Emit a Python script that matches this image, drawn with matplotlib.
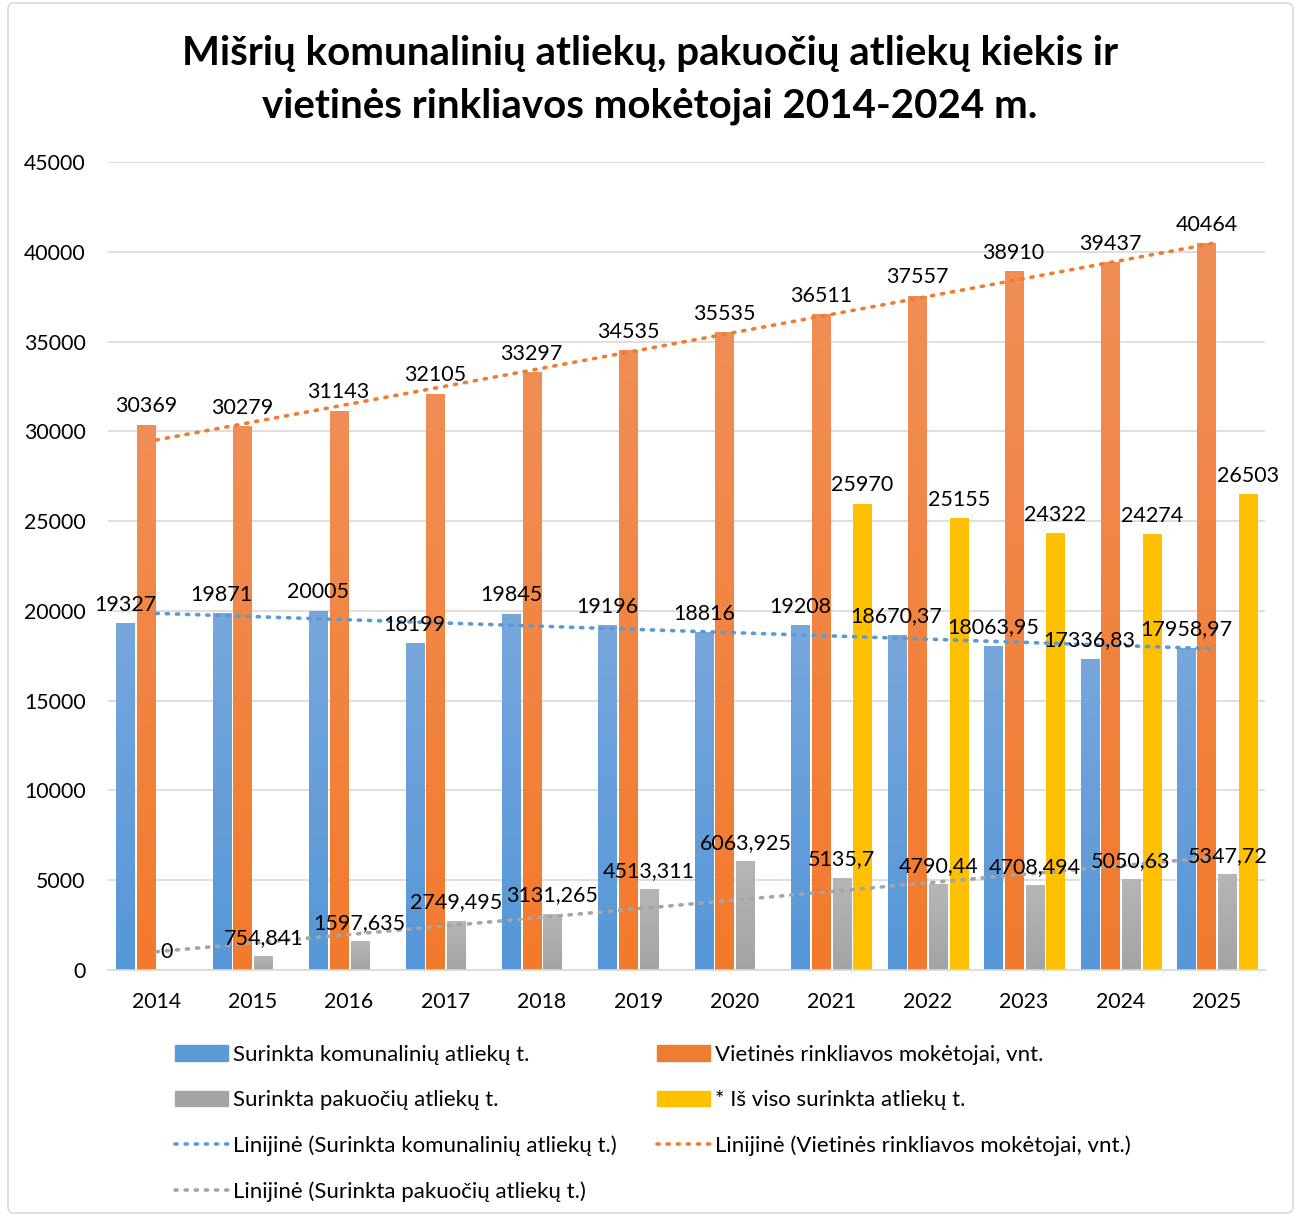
import numpy as np
import matplotlib
matplotlib.use("Agg")
import matplotlib.pyplot as plt
from matplotlib.colors import LinearSegmentedColormap
from matplotlib.patches import Patch, FancyBboxPatch
from matplotlib.lines import Line2D

plt.rcParams['font.family'] = ['Lato', 'DejaVu Sans']

years = ['2014', '2015', '2016', '2017', '2018', '2019', '2020', '2021', '2022', '2023', '2024', '2025']
komunalines = [19327, 19871, 20005, 18199, 19845, 19196, 18816, 19208, 18670.37, 18063.95, 17336.83, 17958.97]
komunalines_lbl = ['19327', '19871', '20005', '18199', '19845', '19196', '18816', '19208', '18670,37', '18063,95', '17336,83', '17958,97']
moketojai = [30369, 30279, 31143, 32105, 33297, 34535, 35535, 36511, 37557, 38910, 39437, 40464]
pakuotes = [0, 754.841, 1597.635, 2749.495, 3131.265, 4513.311, 6063.925, 5135.7, 4790.44, 4708.494, 5050.63, 5347.72]
pakuotes_lbl = ['0', '754,841', '1597,635', '2749,495', '3131,265', '4513,311', '6063,925', '5135,7', '4790,44', '4708,494', '5050,63', '5347,72']
is_viso = [None, None, None, None, None, None, None, 25970, 25155, 24322, 24274, 26503]

names = ['Surinkta komunalinių atliekų t.', 'Vietinės rinkliavos mokėtojai, vnt.',
         'Surinkta pakuočių atliekų t.', '* Iš viso surinkta atliekų t.']
trend_names = ['Linijinė (Surinkta komunalinių atliekų t.)',
               'Linijinė (Vietinės rinkliavos mokėtojai, vnt.)',
               'Linijinė (Surinkta pakuočių atliekų t.)']

c_blue = ('#78A7DC', '#5597D8')
c_orange = ('#F08E55', '#F37A2C')
c_gray = ('#B6B6B6', '#A3A3A3')
c_yellow = ('#FFC000', '#FFC000')

fig = plt.figure(figsize=(13.01, 12.18), dpi=100)
ax = fig.add_axes([108/1301, 1-970/1218, (1265-108)/1301, (970-162)/1218])

x = np.arange(len(years))
w = 0.187
offs = [-0.32, -0.107, 0.11, 0.325]

def grad_bars(xs, vals, color, off):
    for xi, v in zip(xs, vals):
        if v is None:
            continue
        b = ax.bar(xi + off, v, width=w, color=color[1], zorder=2)[0]
        cmap = LinearSegmentedColormap.from_list('g', [color[1], color[0]])
        grad = np.linspace(0, 1, 256).reshape(-1, 1)
        im = ax.imshow(grad, extent=[xi + off - w/2, xi + off + w/2, 0, v], origin='lower',
                       aspect='auto', cmap=cmap, zorder=2.1)
        im.set_clip_path(b)

series = [(komunalines, c_blue, komunalines_lbl), (moketojai, c_orange, [str(v) for v in moketojai]),
          (pakuotes, c_gray, pakuotes_lbl), (is_viso, c_yellow, [str(v) if v is not None else '' for v in is_viso])]

fs = 15.5
for k, (vals, col, lbls) in enumerate(series):
    grad_bars(x, vals, col, offs[k])
    for xi, v, l in zip(x, vals, lbls):
        if v is None:
            continue
        ax.annotate(l, (xi + offs[k], v), xytext=(0, 6), textcoords='offset points',
                    ha='center', va='bottom', fontsize=fs, color='black', zorder=5)

# linear trend lines (Excel-style)
for vals, col in [(komunalines, '#5B9BD5'), (moketojai, '#ED7D31'), (pakuotes, '#A5A5A5')]:
    p = np.polyfit(x + 1, vals, 1)
    ax.plot(x, np.polyval(p, x + 1), linestyle=(0, (0.6, 2.2)), color=col, lw=2.6,
            dash_capstyle='round', zorder=4)

ax.set_xlim(-0.5, len(years) - 0.5)
ax.set_ylim(0, 45000)
ax.set_yticks(np.arange(0, 45001, 5000))
ax.set_yticklabels([str(v) for v in range(0, 45001, 5000)], fontsize=15.3)
ax.set_xticks(x)
ax.set_xticklabels(years, fontsize=15.3)
ax.tick_params(axis='x', length=0, pad=16)
ax.tick_params(axis='y', length=0, pad=16)
ax.grid(axis='y', color='#D9D9D9', lw=1.2, zorder=0)
ax.set_axisbelow(True)
for s in ['top', 'right', 'left']:
    ax.spines[s].set_visible(False)
ax.spines['bottom'].set_color('#D9D9D9')
ax.spines['bottom'].set_linewidth(1.2)

fig.text(650/1301, 1-80/1218, 'Mišrių komunalinių atliekų, pakuočių atliekų kiekis ir\nvietinės rinkliavos mokėtojai 2014-2024 m.',
         ha='center', va='center', fontsize=29, fontweight='bold', linespacing=1.5)

ls = (0, (0.6, 2.2))
handles = [Patch(color='#5B9BD5'), Patch(color='#A5A5A5'),
           Line2D([], [], color='#5B9BD5', lw=2.6, linestyle=ls, dash_capstyle='round'),
           Line2D([], [], color='#A5A5A5', lw=2.6, linestyle=ls, dash_capstyle='round'),
           Patch(color='#ED7D31'), Patch(color='#FFC000'),
           Line2D([], [], color='#ED7D31', lw=2.6, linestyle=ls, dash_capstyle='round')]
labels = [names[0], names[2], trend_names[0], trend_names[2], names[1], names[3], trend_names[1]]
fig.legend(handles, labels, loc='upper left', bbox_to_anchor=(155/1301, 1-1025/1218), ncol=2,
           frameon=False, fontsize=16, handlelength=2.4, handleheight=0.7, handletextpad=0.22,
           columnspacing=1.8, labelspacing=1.13)

fig.patches.append(FancyBboxPatch((8/1301, 5/1218), 1285/1301, 1210/1218, boxstyle='round,pad=0,rounding_size=0.005',
                                  transform=fig.transFigure, fill=False, ec='#D9D9D9', lw=1.2))

fig.savefig('out.png', dpi=100)
